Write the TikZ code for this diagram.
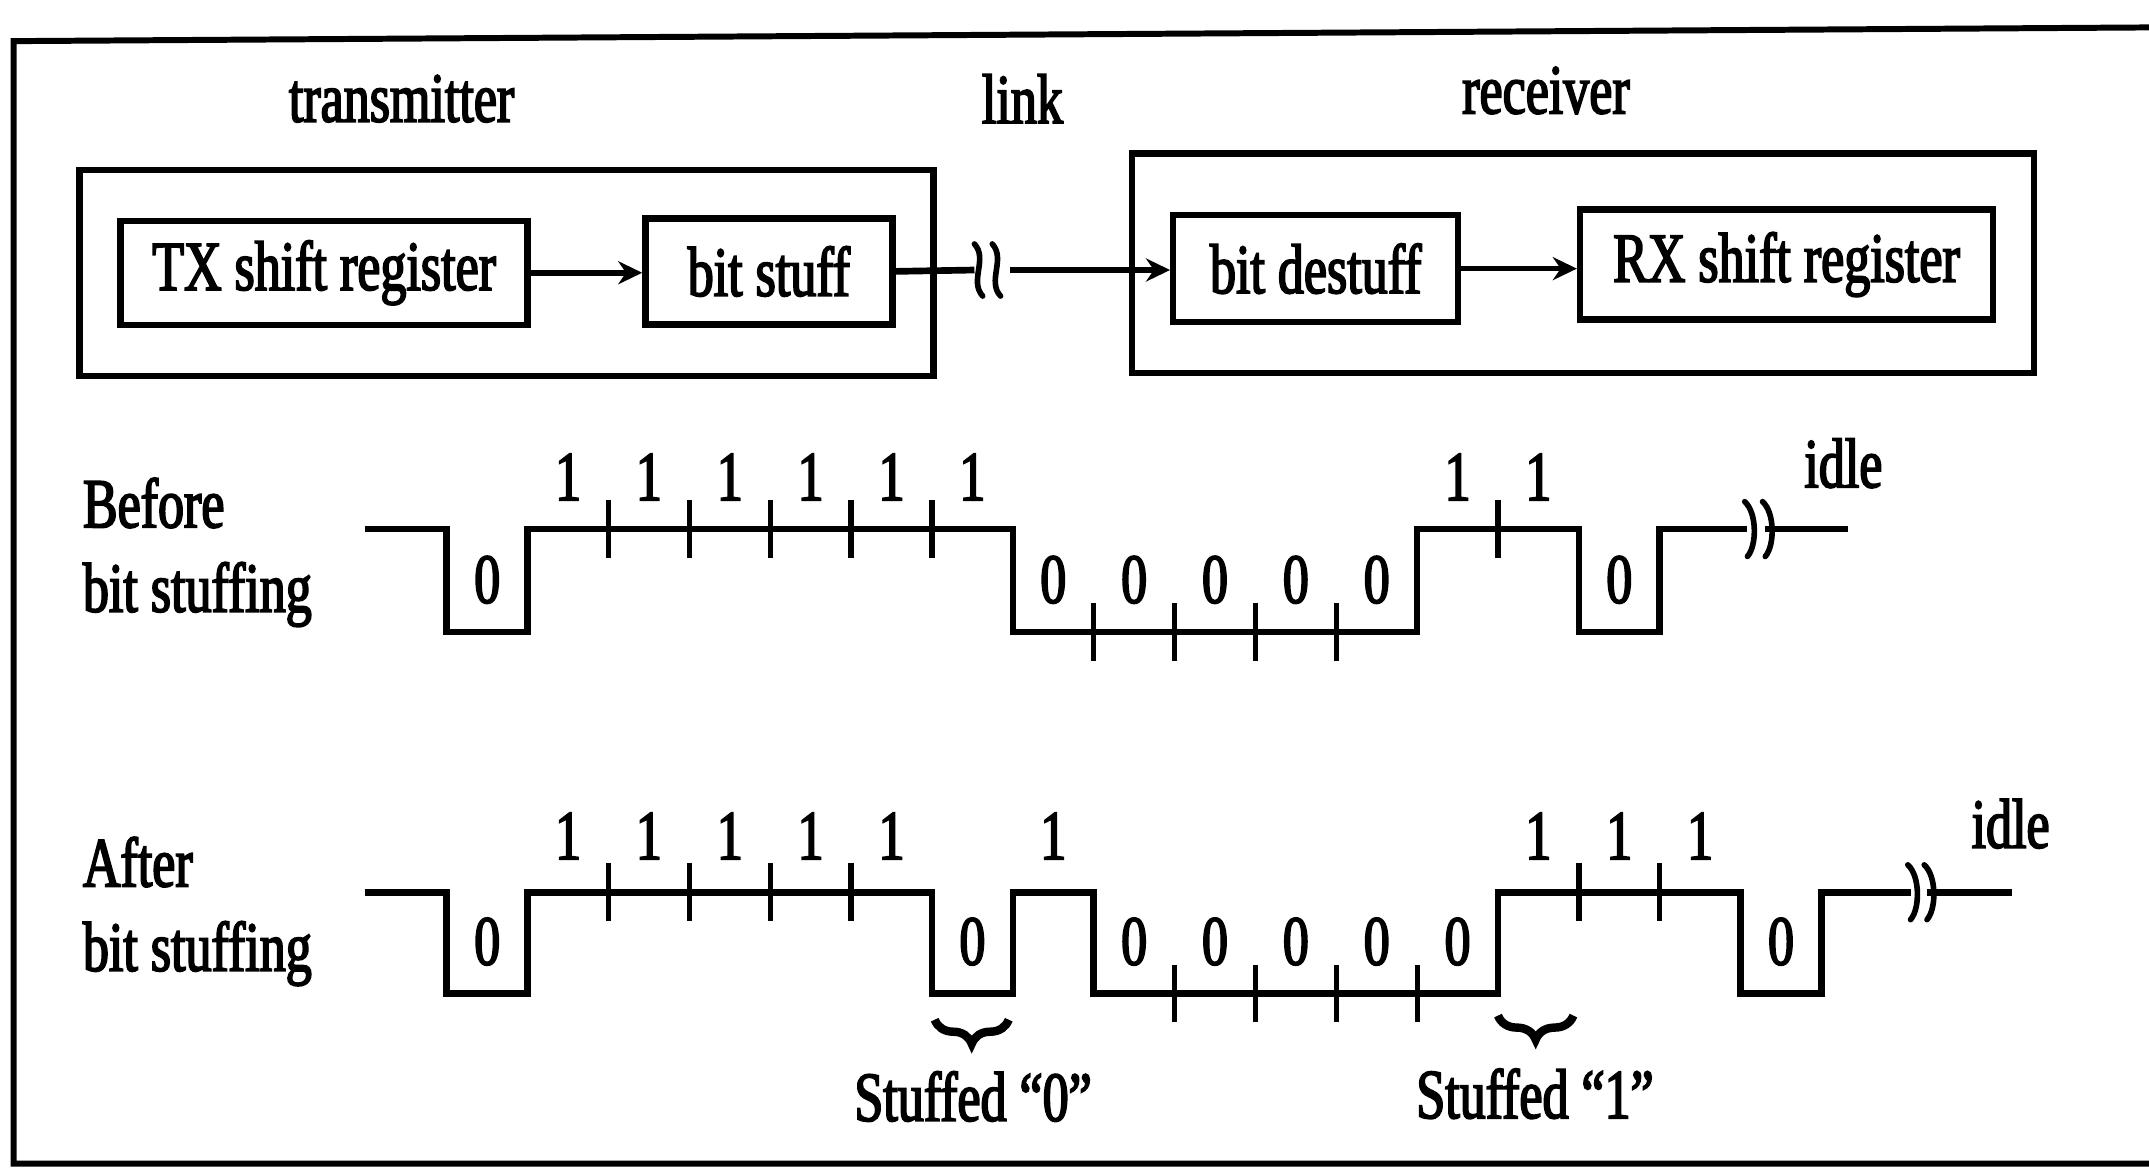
\documentclass[tikz,border=0pt]{standalone}
\usepackage{fontspec}
\setmainfont[FakeStretch=0.74,FakeBold=2.5]{Liberation Serif}
\usetikzlibrary{arrows.meta,positioning,decorations.pathreplacing}
\tikzset{
  unitbox/.style={draw, line width=1.8pt, inner sep=0pt},
  block/.style={draw, line width=1.8pt, inner sep=0pt, align=center},
  flow/.style={-{Stealth[length=2.4mm, width=2.3mm]}, line width=1.6pt},
  sig/.style={line width=1.9pt, line join=miter},
  bittick/.style={line width=1.5pt},
  squiggle/.style={line width=1.6pt, line cap=round},
  lbl/.style={inner sep=0pt, align=left},
  stuffbrace/.style={decorate, decoration={brace, amplitude=2.4mm, mirror}, line width=2.4pt},
}

\begin{document}
\begin{tikzpicture}[x=0.13705mm, y=-0.13705mm, font=\fontsize{20}{24}\selectfont]
    \useasboundingbox (0,0) rectangle (1568,854);
    % frame, open on the right
    \draw[line width=1.7pt] (1568,20) -- (10,30) -- (10,849) -- (1568,849);

    % block diagram
    \node[lbl] (txname) at (293,72) {transmitter};
    \node[lbl] (lnkname) at (746,72) {link};
    \node[lbl] (rxname) at (1128,66) {receiver};

    \node[unitbox, minimum width=85.4mm, minimum height=20.6mm] (txunit) at (369.5,199) {};
    \node[block, minimum width=40.7mm, minimum height=10.4mm] (txreg) at (236.5,199) {TX shift register};
    \node[block, minimum width=24.7mm, minimum height=10.6mm] (stuff) at (561,198) {bit stuff};
    \node[unitbox, minimum width=90.2mm, minimum height=21.9mm] (rxunit) at (1155,192) {};
    \node[block, minimum width=28.5mm, minimum height=10.7mm] (destuff) at (960,196) {bit destuff};
    \node[block, minimum width=41.3mm, minimum height=11mm] (rxreg) at (1303.5,193) {RX shift register};

    \draw[flow] (txreg.east) -- (txreg.east -| stuff.west);
    \draw[flow] (destuff.east) -- (destuff.east -| rxreg.west);

    % link with break
    \coordinate (brkL) at (711,197);
    \coordinate (brkR) at (737,197);
    \draw[sig] (stuff.east) -- (brkL);
    \foreach \x in {714,727}
      \draw[squiggle] (\x-3,178) .. controls (\x+7,189) and (\x-7,205) .. (\x+3,216);
    \draw[flow] (brkR) -- (brkR -| destuff.west);

    % before bit stuffing
    \node[lbl, anchor=west] (before) at (60,403) {Before\\bit stuffing};
    \draw[sig] (266,386) -- (326,386) -- (326,461) -- (385,461) -- (385,386) -- (739,386)
      -- (739,461) -- (1034,461) -- (1034,386) -- (1152,386) -- (1152,461) -- (1211,461)
      -- (1211,386) -- (1275,386);
    \draw[sig] (1288,386) -- (1348,386);
    \foreach \x in {1276,1289}
      \draw[squiggle] (\x-3,366) .. controls (\x+6,374) and (\x+6,398) .. (\x-1,406);
    \foreach \x in {444,503,562,621,680,1093} \draw[bittick] (\x,365) -- (\x,407);
    \foreach \x in {798,857,916,975} \draw[bittick] (\x,440) -- (\x,482);
    \foreach \x [count=\i] in {414.5,473.5,532.5,591.5,650.5,709.5,1063.5,1122.5}
      \node[lbl] (bone\i) at (\x,348) {1};
    \foreach \x [count=\i] in {355.5,768.5,827.5,886.5,945.5,1004.5,1181.5}
      \node[lbl] (bzero\i) at (\x,423) {0};
    \node[lbl] (bidle) at (1345,338) {idle};

    % after bit stuffing
    \node[lbl, anchor=west] (after) at (60,665) {After\\bit stuffing};
    \draw[sig] (266,651) -- (326,651) -- (326,725) -- (385,725) -- (385,651) -- (680,651)
      -- (680,725) -- (739,725) -- (739,651) -- (798,651) -- (798,725) -- (1093,725)
      -- (1093,651) -- (1270,651) -- (1270,725) -- (1329,725) -- (1329,651) -- (1394,651);
    \draw[sig] (1406,651) -- (1468,651);
    \foreach \x in {1395,1407}
      \draw[squiggle] (\x-3,631) .. controls (\x+6,639) and (\x+6,663) .. (\x-1,671);
    \foreach \x in {444,503,562,621,1152,1211} \draw[bittick] (\x,630) -- (\x,672);
    \foreach \x in {857,916,975,1034} \draw[bittick] (\x,704) -- (\x,746);
    \foreach \x [count=\i] in {414.5,473.5,532.5,591.5,650.5,768.5,1122.5,1181.5,1240.5}
      \node[lbl] (aone\i) at (\x,610) {1};
    \foreach \x [count=\i] in {355.5,709.5,827.5,886.5,945.5,1004.5,1063.5,1299.5}
      \node[lbl] (azero\i) at (\x,687) {0};
    \node[lbl] (aidle) at (1467,601) {idle};

    % stuffed bits
    \draw[stuffbrace] (682,744) -- (736,744);
    \node[lbl] (szero) at (710,800) {Stuffed “0”};
    \draw[stuffbrace] (1093,741) -- (1148,741);
    \node[lbl] (sone) at (1120,798) {Stuffed “1”};
  \end{tikzpicture}
\end{document}
